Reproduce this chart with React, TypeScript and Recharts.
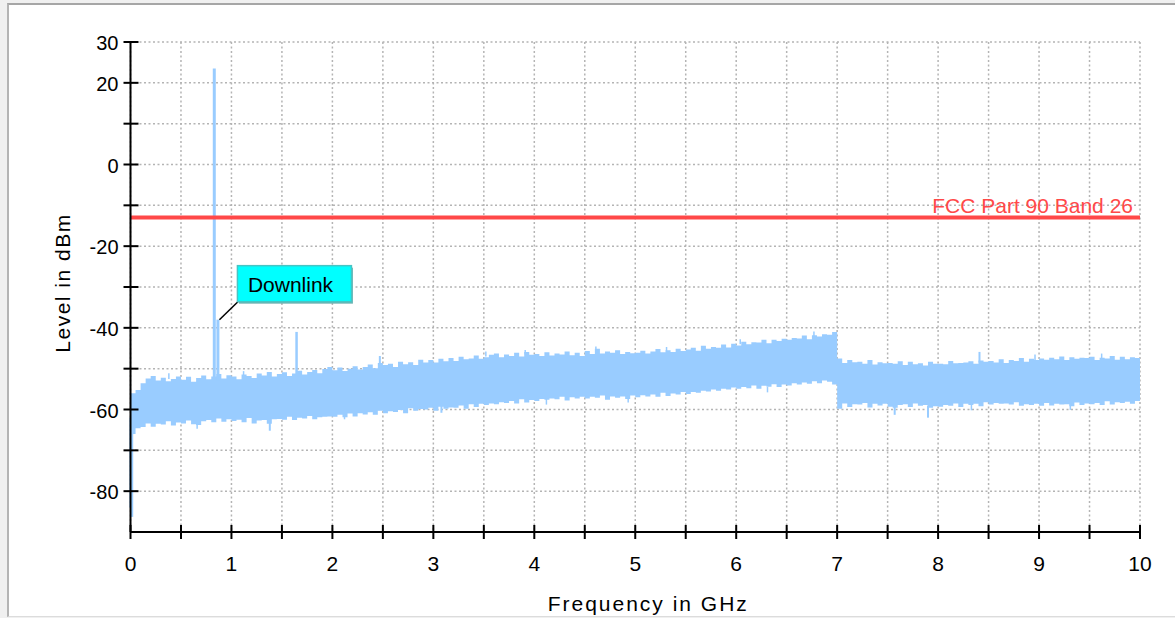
import React from 'react';
import {
  ComposedChart,
  Area,
  XAxis,
  YAxis,
  CartesianGrid,
  ReferenceLine,
  ReferenceDot,
} from 'recharts';

const FONT = '"Liberation Sans", Arial, Helvetica, sans-serif';
const TRACE_COLOR = '#99ccff';
const LIMIT_COLOR = '#ff4848';

// Sweep bins: 0 to 10 GHz, 50 MHz apart
const BIN_GHZ = 0.05;

// Max-hold level per bin (dBm), ten bins per row
const peakHold: number[] = [
  -56, -55.2, -53.6, -52.4, -51.8, -52.9, -52.2, -53.1, -52.5, -51.9,
  -52.7, -52, -53.2, -52.3, -51.7, -52.6, -51.9, -51.3, -52.4, -51.6,
  -51.9, -52.6, -51.4, -51.8, -52.3, -51.2, -51.7, -50.8, -51.9, -51.3,
  -50.9, -51.8, -51.2, -50.5, -51.4, -50.8, -50.3, -51.1, -50.1, -49.6,
  -50.4, -49.7, -50.6, -50, -49.4, -50.2, -49.6, -49, -49.9, -48.6,
  -49.1, -48.8, -49.6, -48.3, -48.9, -48.4, -49.1, -47.8, -48.5, -47.9,
  -48.5, -47.6, -48.2, -47.4, -48.1, -47.1, -47.7, -47.5, -46.8, -47.6,
  -47.2, -46.6, -46.3, -47.2, -46.5, -46.9, -46.1, -47, -45.9, -46.6,
  -46.4, -46.9, -46, -46.8, -46.3, -46.5, -45.8, -46.7, -46.1, -46.9,
  -45.7, -46.4, -45.1, -46.3, -45.8, -46.1, -45.5, -46.4, -45.9, -46.2,
  -46.1, -45.6, -46.3, -45.8, -45.2, -46, -45.5, -45.9, -45.1, -45.7,
  -45.3, -44.9, -45.6, -44.4, -45.1, -44.7, -44.9, -44.1, -44.8, -43.9,
  -44.3, -43.4, -44, -43.5, -43.6, -42.9, -43.8, -42.9, -43.2, -42.7,
  -42.9, -42.5, -42.6, -41.9, -42.8, -41.8, -42.1, -41.6, -41.7, -41,
  -47.5, -48.6, -47.9, -48.4, -48.3, -48.8, -47.9, -49, -48.4, -48.7,
  -48.6, -48.8, -48.2, -49.1, -48.3, -48.9, -48.7, -49.2, -48.3, -48.8,
  -48.8, -48.9, -48.1, -48.7, -48.6, -48.5, -48.2, -48.8, -48, -48.3,
  -48.1, -48.5, -47.7, -48.6, -47.9, -48.1, -47.4, -48.3, -47.6, -47.9,
  -47.5, -47.8, -47.3, -47.7, -47, -47.9, -47.2, -47.6, -47.3, -47.4,
  -47.1, -47.9, -47.3, -47.5, -46.9, -47.8, -47.1, -47.7, -47.2, -47.4,
  -46.5,
];

// Min-hold level per bin (dBm)
const floorHold: number[] = [
  -66, -64.6, -64.3, -63.4, -64.2, -63.5, -63.7, -62.9, -63.9, -63.2,
  -63.4, -62.7, -63.6, -63.8, -62.9, -62.6, -63.1, -62.2, -63, -62.4,
  -62.8, -62.5, -63.1, -62.1, -63.4, -62.7, -62.6, -63.5, -62.4, -62.3,
  -62.5, -61.8, -62.6, -62, -62.2, -61.6, -62.4, -61.9, -61.8, -61.7,
  -61.8, -61.3, -61.9, -61, -61.7, -60.9, -61.2, -60.7, -61.3, -60.3,
  -60.9, -60.4, -60.6, -60.1, -60.9, -59.7, -60.3, -59.9, -60, -59.6,
  -60.3, -59.3, -59.8, -59.5, -59.6, -59, -59.8, -58.7, -59.4, -58.6,
  -58.9, -58.5, -58.7, -58.2, -58.4, -57.9, -58.5, -57.5, -58.3, -57.7,
  -57.9, -57.4, -57.6, -57.3, -57.5, -56.9, -57.8, -57, -57.3, -56.9,
  -57.3, -56.9, -57.1, -56.6, -57.6, -56.8, -57.1, -56.8, -57.4, -56.6,
  -57, -56.5, -56.8, -56.3, -56.9, -55.9, -56.7, -56.1, -56.3, -55.7,
  -56.2, -55.7, -55.9, -55.4, -55.6, -55.1, -55.4, -54.9, -55.1, -54.6,
  -54.9, -54.5, -54.8, -54.1, -54.9, -54.2, -54.4, -53.8, -54.5, -53.9,
  -54.1, -53.6, -53.9, -53.4, -53.7, -53.1, -53.6, -52.9, -53.2, -53.9,
  -59.8, -58.5, -59.4, -58.7, -58.8, -58.4, -59.5, -58.6, -59, -58.6,
  -59.3, -59.6, -58.9, -58.7, -59.4, -58.5, -59.1, -58.9, -59.6, -59.2,
  -59.3, -58.9, -59.1, -58.5, -59.4, -58.6, -58.9, -58.6, -59.2, -58.2,
  -58.8, -58.4, -58.6, -58.5, -58.8, -58.2, -59.1, -58.7, -58.9, -58.6,
  -59.1, -58.4, -59, -58.6, -58.8, -58.7, -59.2, -58.3, -58.9, -58.5,
  -58.7, -58.4, -58.9, -58, -58.8, -58.2, -58.4, -58.1, -58.6, -57.9,
  -57.6,
];

// Features narrower than one bin: frequency (GHz), foot and tip (dBm)
const spikeFreqs = [
  0.004, 0.012, 0.83, 0.866, 1.645,
  0.38, 1.12, 2.47, 3.52, 3.91, 4.61, 5.31, 6.04, 6.77, 8.41, 8.96, 9.62,
  0.66, 1.38, 2.12, 3.08, 4.12, 4.93, 6.31, 7.57, 7.9, 8.33, 9.31,
];
const spikeFeet = [
  -84, -86.3, -53, -53, -52,
  -52.5, -52, -49, -47, -46.5, -46, -45.8, -44, -42, -48.5, -48, -47.5,
  -63, -62, -61, -59, -57.3, -56.6, -54.5, -59, -59, -58.6, -58.5,
];
const spikeTips = [
  -62, -64, 23.5, -38, -41,
  -51.1, -50.6, -46.9, -45.8, -45.4, -44.6, -44.7, -42.8, -40.9, -45.9, -46.5, -46.3,
  -64.7, -65.2, -62.4, -60.8, -58.8, -58.3, -55.8, -61.3, -62, -60.2, -60.1,
];
const spikeWidths = [
  3, 3, 3, 3, 2.5,
  1.5, 1.5, 2, 1.5, 1.5, 1.5, 1.5, 1.5, 1.5, 2, 1.5, 1.5,
  1.5, 2, 1.5, 2, 1.5, 1.5, 1.5, 2, 2, 1.5, 1.5,
];

const FCC_LIMIT_DBM = -13;
const FCC_LABEL = 'FCC Part 90 Band 26';

const DOWNLINK_FREQ = 0.866;
const DOWNLINK_DBM = -38;

const xTicks = [0, 0.5, 1, 1.5, 2, 2.5, 3, 3.5, 4, 4.5, 5, 5.5, 6, 6.5, 7, 7.5, 8, 8.5, 9, 9.5, 10];
const xLabeled = [0, 1, 2, 3, 4, 5, 6, 7, 8, 9, 10];
const yTicks = [30, 20, 10, 0, -10, -20, -30, -40, -50, -60, -70, -80, -90];
const yLabeled = [30, 20, 0, -20, -40, -60, -80];

const spectrum = peakHold.map((hi, i) => ({
  freq: Math.round(i * BIN_GHZ * 100) / 100,
  level: [floorHold[i], hi],
}));

function FreqTick({ x, y, payload }: any) {
  const v = payload.value;
  return (
    <g>
      <line x1={x} x2={x} y1={y - 7} y2={y + 7} stroke="#000" strokeWidth={2} />
      {xLabeled.includes(v) && (
        <text x={x} y={y + 39} textAnchor="middle" fontSize={21} fontFamily={FONT} fill="#000">
          {v}
        </text>
      )}
    </g>
  );
}

function LevelTick({ x, y, payload }: any) {
  const v = payload.value;
  if (v === -90) return null;
  return (
    <g>
      <line x1={x - 7} x2={x + 8} y1={y} y2={y} stroke="#000" strokeWidth={2} />
      {yLabeled.includes(v) && (
        <text x={x - 12} y={y + 8} textAnchor="end" fontSize={20} fontFamily={FONT} fill="#000">
          {v}
        </text>
      )}
    </g>
  );
}

function FreqTitle({ viewBox }: any) {
  const cx = viewBox.x + viewBox.width / 2 + 13;
  return (
    <text x={cx} y={viewBox.y + 79} textAnchor="middle" fontSize={21} letterSpacing={2} fontFamily={FONT} fill="#000">
      Frequency in GHz
    </text>
  );
}

function LevelTitle({ viewBox }: any) {
  const x = 70;
  const y = viewBox.y + viewBox.height / 2 - 4;
  return (
    <text
      x={x}
      y={y}
      transform={`rotate(-90 ${x} ${y})`}
      textAnchor="middle"
      fontSize={21}
      letterSpacing={1.5}
      fontFamily={FONT}
      fill="#000"
    >
      Level in dBm
    </text>
  );
}

function LimitLabel({ viewBox }: any) {
  return (
    <text
      x={viewBox.x + viewBox.width - 7}
      y={viewBox.y - 5}
      textAnchor="end"
      fontSize={21}
      fontFamily={FONT}
      fill={LIMIT_COLOR}
    >
      {FCC_LABEL}
    </text>
  );
}

// Callout box with a leader line down to the marked emission
function DownlinkCallout({ cx, cy }: any) {
  return (
    <g>
      <line x1={cx + 1.5} y1={cy} x2={cx + 20} y2={cy - 18} stroke="#000" strokeWidth={1.5} />
      <rect x={cx + 21} y={cy - 52} width={114} height={36} fill="#6fb3b3" />
      <rect x={cx + 19.5} y={cy - 54} width={114} height={36} fill="#00ffff" stroke="#48c4c4" strokeWidth={1.5} />
      <text x={cx + 30} y={cy - 28} fontSize={21} fontFamily={FONT} fill="#000">
        Downlink
      </text>
    </g>
  );
}

export default function App() {
  return (
    <div
      style={{
        position: 'fixed',
        left: 0,
        top: 0,
        width: 1175,
        height: 618,
        background: '#f0f0f0',
        overflow: 'hidden',
      }}
    >
      <div
        style={{
          position: 'absolute',
          left: 7,
          top: 3,
          width: 1190,
          height: 611,
          background: '#fff',
          borderTop: '2px solid #a6a6a6',
          borderLeft: '2px solid #b4b4b4',
          borderBottom: '1px solid #dcdcdc',
        }}
      />
      <div style={{ position: 'absolute', left: 0, top: 0 }}>
        <ComposedChart
          width={1175}
          height={618}
          data={spectrum}
          margin={{ top: 42, right: 35, bottom: 0, left: 0 }}
        >
          <CartesianGrid stroke="#b4b4b4" strokeWidth={1.5} strokeDasharray="2 2.5" />
          <XAxis
            dataKey="freq"
            type="number"
            domain={[0, 10]}
            ticks={xTicks}
            interval={0}
            height={86}
            tickSize={0}
            tickMargin={0}
            tickLine={false}
            axisLine={{ stroke: '#000', strokeWidth: 2 }}
            tick={<FreqTick />}
            label={<FreqTitle />}
            allowDataOverflow
          />
          <YAxis
            type="number"
            domain={[-90, 30]}
            ticks={yTicks}
            interval={0}
            width={130.5}
            tickSize={0}
            tickMargin={0}
            tickLine={false}
            axisLine={{ stroke: '#000', strokeWidth: 2 }}
            tick={<LevelTick />}
            label={<LevelTitle />}
            allowDataOverflow
          />
          <Area
            dataKey="level"
            type="stepAfter"
            stroke="none"
            fill={TRACE_COLOR}
            fillOpacity={1}
            isAnimationActive={false}
          />
          {spikeFreqs.map((f, i) => (
            <ReferenceLine
              key={`spike-${i}`}
              segment={[
                { x: f, y: spikeFeet[i] },
                { x: f, y: spikeTips[i] },
              ]}
              stroke={TRACE_COLOR}
              strokeWidth={spikeWidths[i]}
            />
          ))}
          <ReferenceLine
            y={FCC_LIMIT_DBM}
            stroke={LIMIT_COLOR}
            strokeWidth={4}
            label={<LimitLabel />}
          />
          <ReferenceDot
            x={DOWNLINK_FREQ}
            y={DOWNLINK_DBM}
            r={0}
            shape={<DownlinkCallout />}
          />
        </ComposedChart>
      </div>
    </div>
  );
}
